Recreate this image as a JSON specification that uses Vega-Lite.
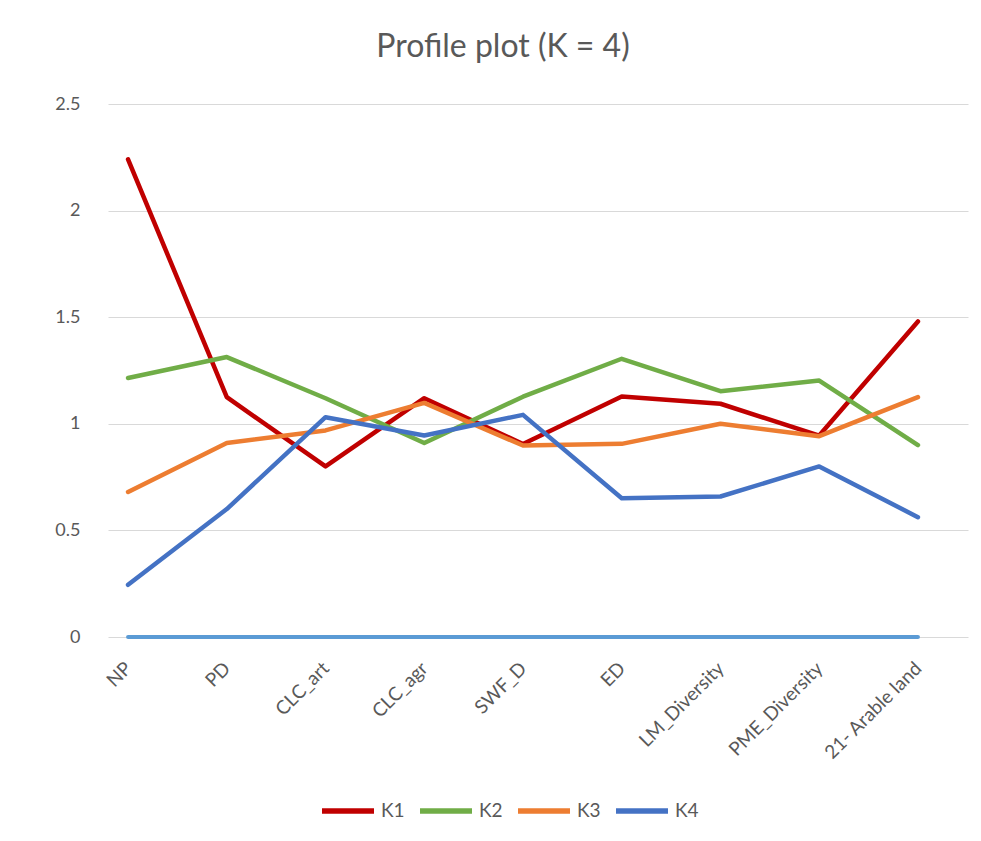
{
  "$schema": "https://vega.github.io/schema/vega-lite/v6.json",
  "autosize": "none",
  "width": 860,
  "height": 533,
  "padding": {"left": 108, "top": 104, "right": 13, "bottom": 204},
  "background": "white",
  "title": {
    "text": "Profile plot (K = 4)",
    "fontSize": 32,
    "font": "Lato",
    "fontWeight": "normal",
    "color": "#595959",
    "offset": 31,
    "dx": -35
  },
  "datasets": {
    "profiles": [
      {"cluster": "K1", "variable": "NP", "value": 2.24},
      {"cluster": "K1", "variable": "PD", "value": 1.125},
      {"cluster": "K1", "variable": "CLC_art", "value": 0.8},
      {"cluster": "K1", "variable": "CLC_agr", "value": 1.12},
      {"cluster": "K1", "variable": "SWF_D", "value": 0.905},
      {"cluster": "K1", "variable": "ED", "value": 1.128},
      {"cluster": "K1", "variable": "LM_Diversity", "value": 1.094},
      {"cluster": "K1", "variable": "PME_Diversity", "value": 0.945},
      {"cluster": "K1", "variable": "21- Arable land", "value": 1.48},
      {"cluster": "K2", "variable": "NP", "value": 1.215},
      {"cluster": "K2", "variable": "PD", "value": 1.313},
      {"cluster": "K2", "variable": "CLC_art", "value": 1.12},
      {"cluster": "K2", "variable": "CLC_agr", "value": 0.91},
      {"cluster": "K2", "variable": "SWF_D", "value": 1.127},
      {"cluster": "K2", "variable": "ED", "value": 1.305},
      {"cluster": "K2", "variable": "LM_Diversity", "value": 1.153},
      {"cluster": "K2", "variable": "PME_Diversity", "value": 1.203},
      {"cluster": "K2", "variable": "21- Arable land", "value": 0.9},
      {"cluster": "K3", "variable": "NP", "value": 0.68},
      {"cluster": "K3", "variable": "PD", "value": 0.91},
      {"cluster": "K3", "variable": "CLC_art", "value": 0.969},
      {"cluster": "K3", "variable": "CLC_agr", "value": 1.098},
      {"cluster": "K3", "variable": "SWF_D", "value": 0.898},
      {"cluster": "K3", "variable": "ED", "value": 0.906},
      {"cluster": "K3", "variable": "LM_Diversity", "value": 1.0},
      {"cluster": "K3", "variable": "PME_Diversity", "value": 0.942},
      {"cluster": "K3", "variable": "21- Arable land", "value": 1.125},
      {"cluster": "K4", "variable": "NP", "value": 0.245},
      {"cluster": "K4", "variable": "PD", "value": 0.6},
      {"cluster": "K4", "variable": "CLC_art", "value": 1.031},
      {"cluster": "K4", "variable": "CLC_agr", "value": 0.945},
      {"cluster": "K4", "variable": "SWF_D", "value": 1.042},
      {"cluster": "K4", "variable": "ED", "value": 0.651},
      {"cluster": "K4", "variable": "LM_Diversity", "value": 0.659},
      {"cluster": "K4", "variable": "PME_Diversity", "value": 0.8},
      {"cluster": "K4", "variable": "21- Arable land", "value": 0.562}
    ],
    "baseline": [
      {"variable": "NP", "value": 0},
      {"variable": "PD", "value": 0},
      {"variable": "CLC_art", "value": 0},
      {"variable": "CLC_agr", "value": 0},
      {"variable": "SWF_D", "value": 0},
      {"variable": "ED", "value": 0},
      {"variable": "LM_Diversity", "value": 0},
      {"variable": "PME_Diversity", "value": 0},
      {"variable": "21- Arable land", "value": 0}
    ]
  },
  "encoding": {
    "x": {
      "field": "variable",
      "type": "nominal",
      "sort": ["NP", "PD", "CLC_art", "CLC_agr", "SWF_D", "ED", "LM_Diversity", "PME_Diversity", "21- Arable land"],
      "scale": {"type": "point", "padding": 0.355, "align": 0.286},
      "axis": {
        "title": null,
        "domain": false,
        "ticks": false,
        "grid": false,
        "labelAngle": -45,
        "labelAlign": "right",
        "labelBaseline": "middle",
        "labelPadding": 28,
        "labelFont": "Lato",
        "labelFontSize": 19,
        "labelColor": "#595959"
      }
    },
    "y": {
      "field": "value",
      "type": "quantitative",
      "scale": {"domain": [0, 2.5], "nice": false, "zero": true},
      "axis": {
        "title": null,
        "values": [0, 0.5, 1, 1.5, 2, 2.5],
        "format": "~g",
        "domain": false,
        "ticks": false,
        "grid": true,
        "gridColor": "#D9D9D9",
        "gridWidth": 1.2,
        "labelPadding": 28,
        "labelFont": "Lato",
        "labelFontSize": 18,
        "labelColor": "#595959"
      }
    }
  },
  "layer": [
    {
      "data": {"name": "baseline"},
      "mark": {"type": "line", "color": "#5B9BD5", "strokeWidth": 4, "strokeCap": "round"}
    },
    {
      "data": {"name": "profiles"},
      "mark": {"type": "line", "strokeWidth": 4.5, "strokeJoin": "round", "strokeCap": "round"},
      "encoding": {
        "color": {
          "field": "cluster",
          "type": "nominal",
          "scale": {"domain": ["K1", "K2", "K3", "K4"], "range": ["#C00000", "#70AD47", "#ED7D31", "#4472C4"]},
          "legend": {
            "title": null,
            "orient": "none",
            "legendX": 211,
            "legendY": 678,
            "direction": "horizontal",
            "symbolType": "stroke",
            "symbolSize": 2704,
            "symbolStrokeWidth": 5.5,
            "labelFont": "Lato",
            "labelFontSize": 19,
            "labelColor": "#595959",
            "labelOffset": 4,
            "columnPadding": 4
          }
        }
      }
    }
  ],
  "config": {"view": {"stroke": null}}
}
